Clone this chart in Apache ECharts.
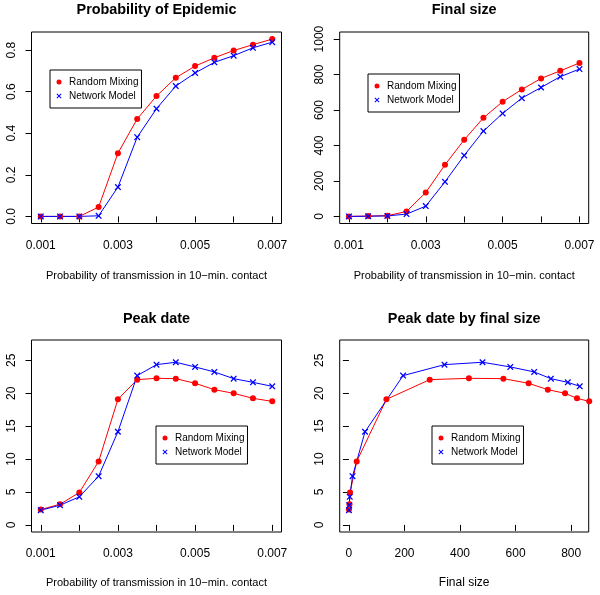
<!DOCTYPE html>
<html>
<head>
<meta charset="utf-8">
<script src="https://cdn.jsdelivr.net/npm/echarts@6/dist/echarts.min.js"></script>
<style>
html,body{margin:0;padding:0;background:#fff;}
#chart{width:600px;height:595px;}
</style>
</head>
<body>
<div id="chart"></div>
<script>
// ---- data ----
const transmission = [0.001, 0.0015, 0.002, 0.0025, 0.003, 0.0035, 0.004, 0.0045, 0.005, 0.0055, 0.006, 0.0065, 0.007];
const probRM = [0, 0, 0, 0.045, 0.304, 0.469, 0.579, 0.667, 0.723, 0.763, 0.798, 0.826, 0.853];
const probNM = [0, 0, 0, 0.003, 0.141, 0.381, 0.518, 0.627, 0.690, 0.741, 0.773, 0.811, 0.838];
const sizeRM = [0, 2, 4, 28, 135, 291, 432, 556, 647, 716, 778, 821, 865];
const sizeNM = [0, 1, 3, 13, 58, 195, 344, 481, 581, 667, 727, 788, 831];
const peakRM = [2.33, 3.14, 4.92, 9.63, 19.07, 22.06, 22.26, 22.21, 21.5, 20.54, 19.98, 19.22, 18.76];
const peakNM = [2.23, 2.99, 4.26, 7.40, 14.15, 22.67, 24.34, 24.70, 23.99, 23.23, 22.21, 21.65, 21.04];

const seriesNames = ['Random Mixing', 'Network Model'];
const panelTitles = ['Probability of Epidemic', 'Final size', 'Peak date', 'Peak date by final size'];
const xTitleTrans = 'Probability of transmission in 10\u2212min. contact';
const xTitleSize = 'Final size';

const transTicks = [0.001, 0.002, 0.003, 0.004, 0.005, 0.006, 0.007];
const transLabels = [0.001, 0.003, 0.005, 0.007];
const probTicks = [0, 0.2, 0.4, 0.6, 0.8];
const sizeTicks = [0, 200, 400, 600, 800, 1000];
const sizeTicksX = [0, 200, 400, 600, 800];
const peakTicks = [0, 5, 10, 15, 20, 25];

// ---- styling ----
const FONT = 'Liberation Sans, Arial, Helvetica, sans-serif';
const RED = '#FF0000', BLUE = '#0000FF';
const XPATH = 'path://M0,1.4L1.4,0L5,3.6L8.6,0L10,1.4L6.4,5L10,8.6L8.6,10L5,6.4L1.4,10L0,8.6L3.6,5Z';

const zip = (xs, ys) => xs.map((x, i) => [x, ys[i]]);

const grids = [
  {left: 31.5, top: 32, width: 250, height: 191.5},
  {left: 339.7, top: 32, width: 249, height: 191.5},
  {left: 31.5, top: 340, width: 250, height: 192},
  {left: 339.7, top: 340, width: 249, height: 192}
].map(g => Object.assign(g, {show: true, borderColor: '#000', borderWidth: 1, backgroundColor: 'transparent'}));

function xAxisDef(idx, min, max, ticks, labels, fmt) {
  return {
    type: 'value', gridIndex: idx, min: min, max: max,
    splitLine: {show: false},
    axisLine: {show: false},
    axisTick: {show: true, length: 6, lineStyle: {color: '#000', width: 1}, customValues: ticks},
    axisLabel: {customValues: labels, formatter: fmt, margin: 16, color: '#000', fontSize: 12, fontFamily: FONT}
  };
}
function yAxisDef(idx, min, max, ticks, fmt) {
  return {
    type: 'value', gridIndex: idx, min: min, max: max,
    splitLine: {show: false},
    axisLine: {show: false},
    axisTick: {show: true, length: 6, lineStyle: {color: '#000', width: 1}, customValues: ticks},
    axisLabel: {customValues: ticks, formatter: fmt, rotate: 90, margin: 14, color: '#000', fontSize: 12, fontFamily: FONT}
  };
}
const fmt3 = v => Number(v).toFixed(3);
const fmt1 = v => Number(v).toFixed(1);
const fmt0 = v => String(Math.round(v));

const xAxes = [
  xAxisDef(0, 0.00076, 0.00724, transTicks, transLabels, fmt3),
  xAxisDef(1, 0.00076, 0.00724, transTicks, transLabels, fmt3),
  xAxisDef(2, 0.00076, 0.00724, transTicks, transLabels, fmt3),
  xAxisDef(3, -33.2, 863.2, sizeTicksX, sizeTicksX, fmt0)
];
const yAxes = [
  yAxisDef(0, -0.0341, 0.887, probTicks, fmt1),
  yAxisDef(1, -40, 1040, sizeTicks, fmt0),
  yAxisDef(2, -1.08, 28.08, peakTicks, fmt0),
  yAxisDef(3, -1.08, 28.08, peakTicks, fmt0)
];

function lineSeries(name, idx, data, color, symbol, size) {
  return {
    type: 'line', name: name, xAxisIndex: idx, yAxisIndex: idx,
    data: data, symbol: symbol, symbolSize: size, showSymbol: true,
    clip: idx === 3 ? false : true,
    lineStyle: {color: color, width: 1},
    itemStyle: {color: color},
    emphasis: {disabled: true},
    silent: true
  };
}
const series = [
  lineSeries(seriesNames[0], 0, zip(transmission, probRM), RED, 'circle', 6),
  lineSeries(seriesNames[1], 0, zip(transmission, probNM), BLUE, XPATH, 6.5),
  lineSeries(seriesNames[0], 1, zip(transmission, sizeRM), RED, 'circle', 6),
  lineSeries(seriesNames[1], 1, zip(transmission, sizeNM), BLUE, XPATH, 6.5),
  lineSeries(seriesNames[0], 2, zip(transmission, peakRM), RED, 'circle', 6),
  lineSeries(seriesNames[1], 2, zip(transmission, peakNM), BLUE, XPATH, 6.5),
  lineSeries(seriesNames[0], 3, zip(sizeRM, peakRM), RED, 'circle', 6),
  lineSeries(seriesNames[1], 3, zip(sizeNM, peakNM), BLUE, XPATH, 6.5)
];

function legendDef(left, top) {
  return {
    left: left, top: top, orient: 'vertical',
    data: [{name: seriesNames[0], icon: 'circle'}, {name: seriesNames[1], icon: XPATH}],
    itemWidth: 5, itemHeight: 5, itemGap: 2,
    padding: [6, 3, 6, 6.5],
    borderColor: '#000', borderWidth: 1, borderRadius: 0,
    backgroundColor: '#fff',
    selectedMode: false,
    textStyle: {fontSize: 10, lineHeight: 12, color: '#000', fontFamily: FONT, padding: [0, 0, 0, 2.5]}
  };
}
const legends = [legendDef(50, 70), legendDef(368, 74), legendDef(156, 426), legendDef(432, 426)];

function txt(x, y, text, size, bold) {
  return {type: 'text', x: x, y: y, silent: true,
    style: {text: text, fill: '#000', font: (bold ? 'bold ' : '') + size + 'px ' + FONT, align: 'center', verticalAlign: 'middle'}};
}
const graphics = [
  txt(156.5, 10.5, panelTitles[0], 14.4, true),
  txt(464.2, 10.5, panelTitles[1], 14.4, true),
  txt(156.5, 319, panelTitles[2], 14.4, true),
  txt(464.2, 319, panelTitles[3], 14.4, true),
  txt(156.5, 276, xTitleTrans, 11, false),
  txt(464.2, 276, xTitleTrans, 11, false),
  txt(156.5, 583, xTitleTrans, 11, false),
  txt(464.2, 583, xTitleSize, 12, false)
];

const chart = echarts.init(document.getElementById('chart'), null, {renderer: 'canvas'});
chart.setOption({
  animation: false,
  backgroundColor: '#fff',
  grid: grids,
  xAxis: xAxes,
  yAxis: yAxes,
  legend: legends,
  series: series,
  graphic: graphics
});
</script>
</body>
</html>
